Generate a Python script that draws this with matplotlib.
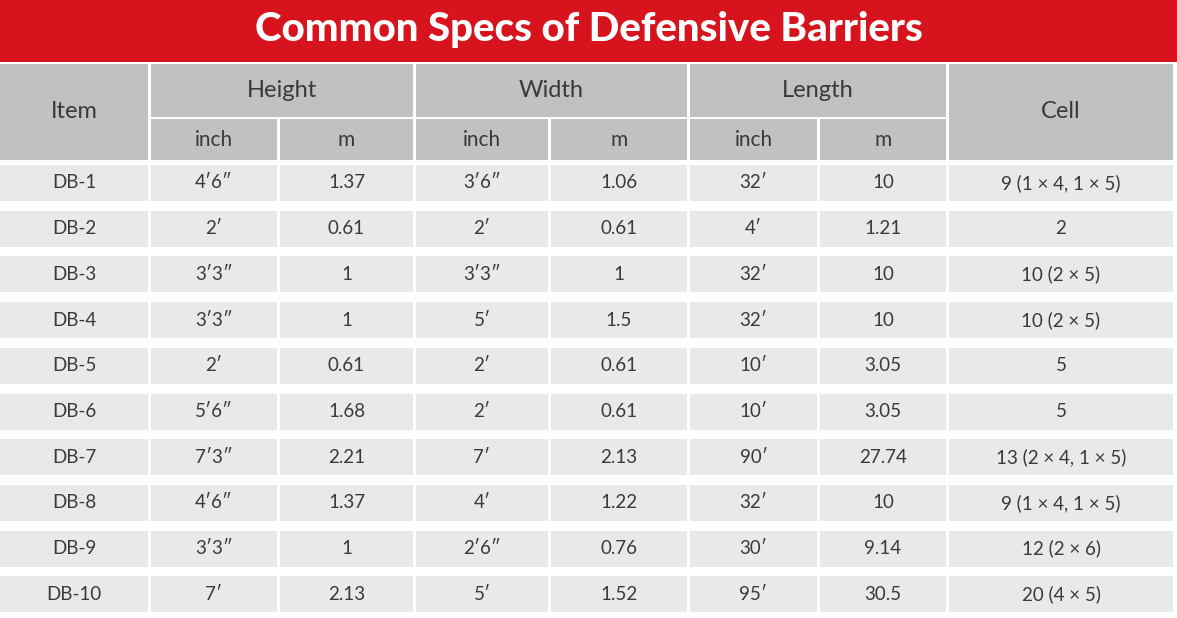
import matplotlib.pyplot as plt
from matplotlib.patches import Rectangle

# ---- data ----
title = "Common Specs of Defensive Barriers"
groups = ["Height", "Width", "Length"]
units = ["inch", "m"]
items = ["DB-1", "DB-2", "DB-3", "DB-4", "DB-5", "DB-6", "DB-7", "DB-8", "DB-9", "DB-10"]
height_in = ["4\u20326\u2033", "2\u2032", "3\u20323\u2033", "3\u20323\u2033", "2\u2032", "5\u20326\u2033", "7\u20323\u2033", "4\u20326\u2033", "3\u20323\u2033", "7\u2032"]
height_m = ["1.37", "0.61", "1", "1", "0.61", "1.68", "2.21", "1.37", "1", "2.13"]
width_in = ["3\u20326\u2033", "2\u2032", "3\u20323\u2033", "5\u2032", "2\u2032", "2\u2032", "7\u2032", "4\u2032", "2\u20326\u2033", "5\u2032"]
width_m = ["1.06", "0.61", "1", "1.5", "0.61", "0.61", "2.13", "1.22", "0.76", "1.52"]
length_in = ["32\u2032", "4\u2032", "32\u2032", "32\u2032", "10\u2032", "10\u2032", "90\u2032", "32\u2032", "30\u2032", "95\u2032"]
length_m = ["10", "1.21", "10", "10", "3.05", "3.05", "27.74", "10", "9.14", "30.5"]
cells = ["9 (1 \u00d7 4, 1 \u00d7 5)", "2", "10 (2 \u00d7 5)", "10 (2 \u00d7 5)", "5", "5",
         "13 (2 \u00d7 4, 1 \u00d7 5)", "9 (1 \u00d7 4, 1 \u00d7 5)", "12 (2 \u00d7 6)", "20 (4 \u00d7 5)"]

# ---- layout (pixels) ----
W, H = 1177, 618
col_l = [0, 151, 280, 416, 551, 690, 820, 949]
col_r = [148, 277, 413, 548, 687, 817, 946, 1173]
RED = "#d7141d"
HEAD = "#c2c0c2"
CELL = "#eae8ea"
TXT = "#3a3a3a"
FONT = "Lato"

fig = plt.figure(figsize=(W / 100, H / 100), dpi=100)
ax = fig.add_axes([0, 0, 1, 1])
ax.set_xlim(0, W)
ax.set_ylim(H, 0)
ax.axis("off")


def box(x0, x1, y0, y1, color, text=None, size=15, **kw):
    ax.add_patch(Rectangle((x0, y0), x1 - x0, y1 - y0, color=color, lw=0))
    if text is not None:
        ax.text((x0 + x1) / 2, (y0 + y1) / 2, text, ha="center", va="center",
                fontsize=size, family=FONT, color=kw.pop("color_t", TXT), **kw)


# title band
box(0, W, 0, 62, RED)
ax.text(W / 2, 29, title, ha="center", va="center", fontsize=29,
        fontweight="heavy", family=FONT, color="white")

# header
box(col_l[0], col_r[0], 64, 160, HEAD, "Item", 17)
box(col_l[7], col_r[7], 64, 160, HEAD, "Cell", 17)
for g, name in enumerate(groups):
    a, b = 1 + 2 * g, 2 + 2 * g
    box(col_l[a], col_r[b], 64, 117, HEAD, name, 17)
    for k, u in enumerate(units):
        box(col_l[a + k], col_r[a + k], 119, 160, HEAD, u, 15)

# body
columns = [items, height_in, height_m, width_in, width_m, length_in, length_m, cells]
for i in range(len(items)):
    y0 = 165 + i * 45.7
    for c, col in enumerate(columns):
        box(col_l[c], col_r[c], y0, y0 + 36, CELL, col[i], 13.5)

fig.savefig("out.png", dpi=100, facecolor="white")
